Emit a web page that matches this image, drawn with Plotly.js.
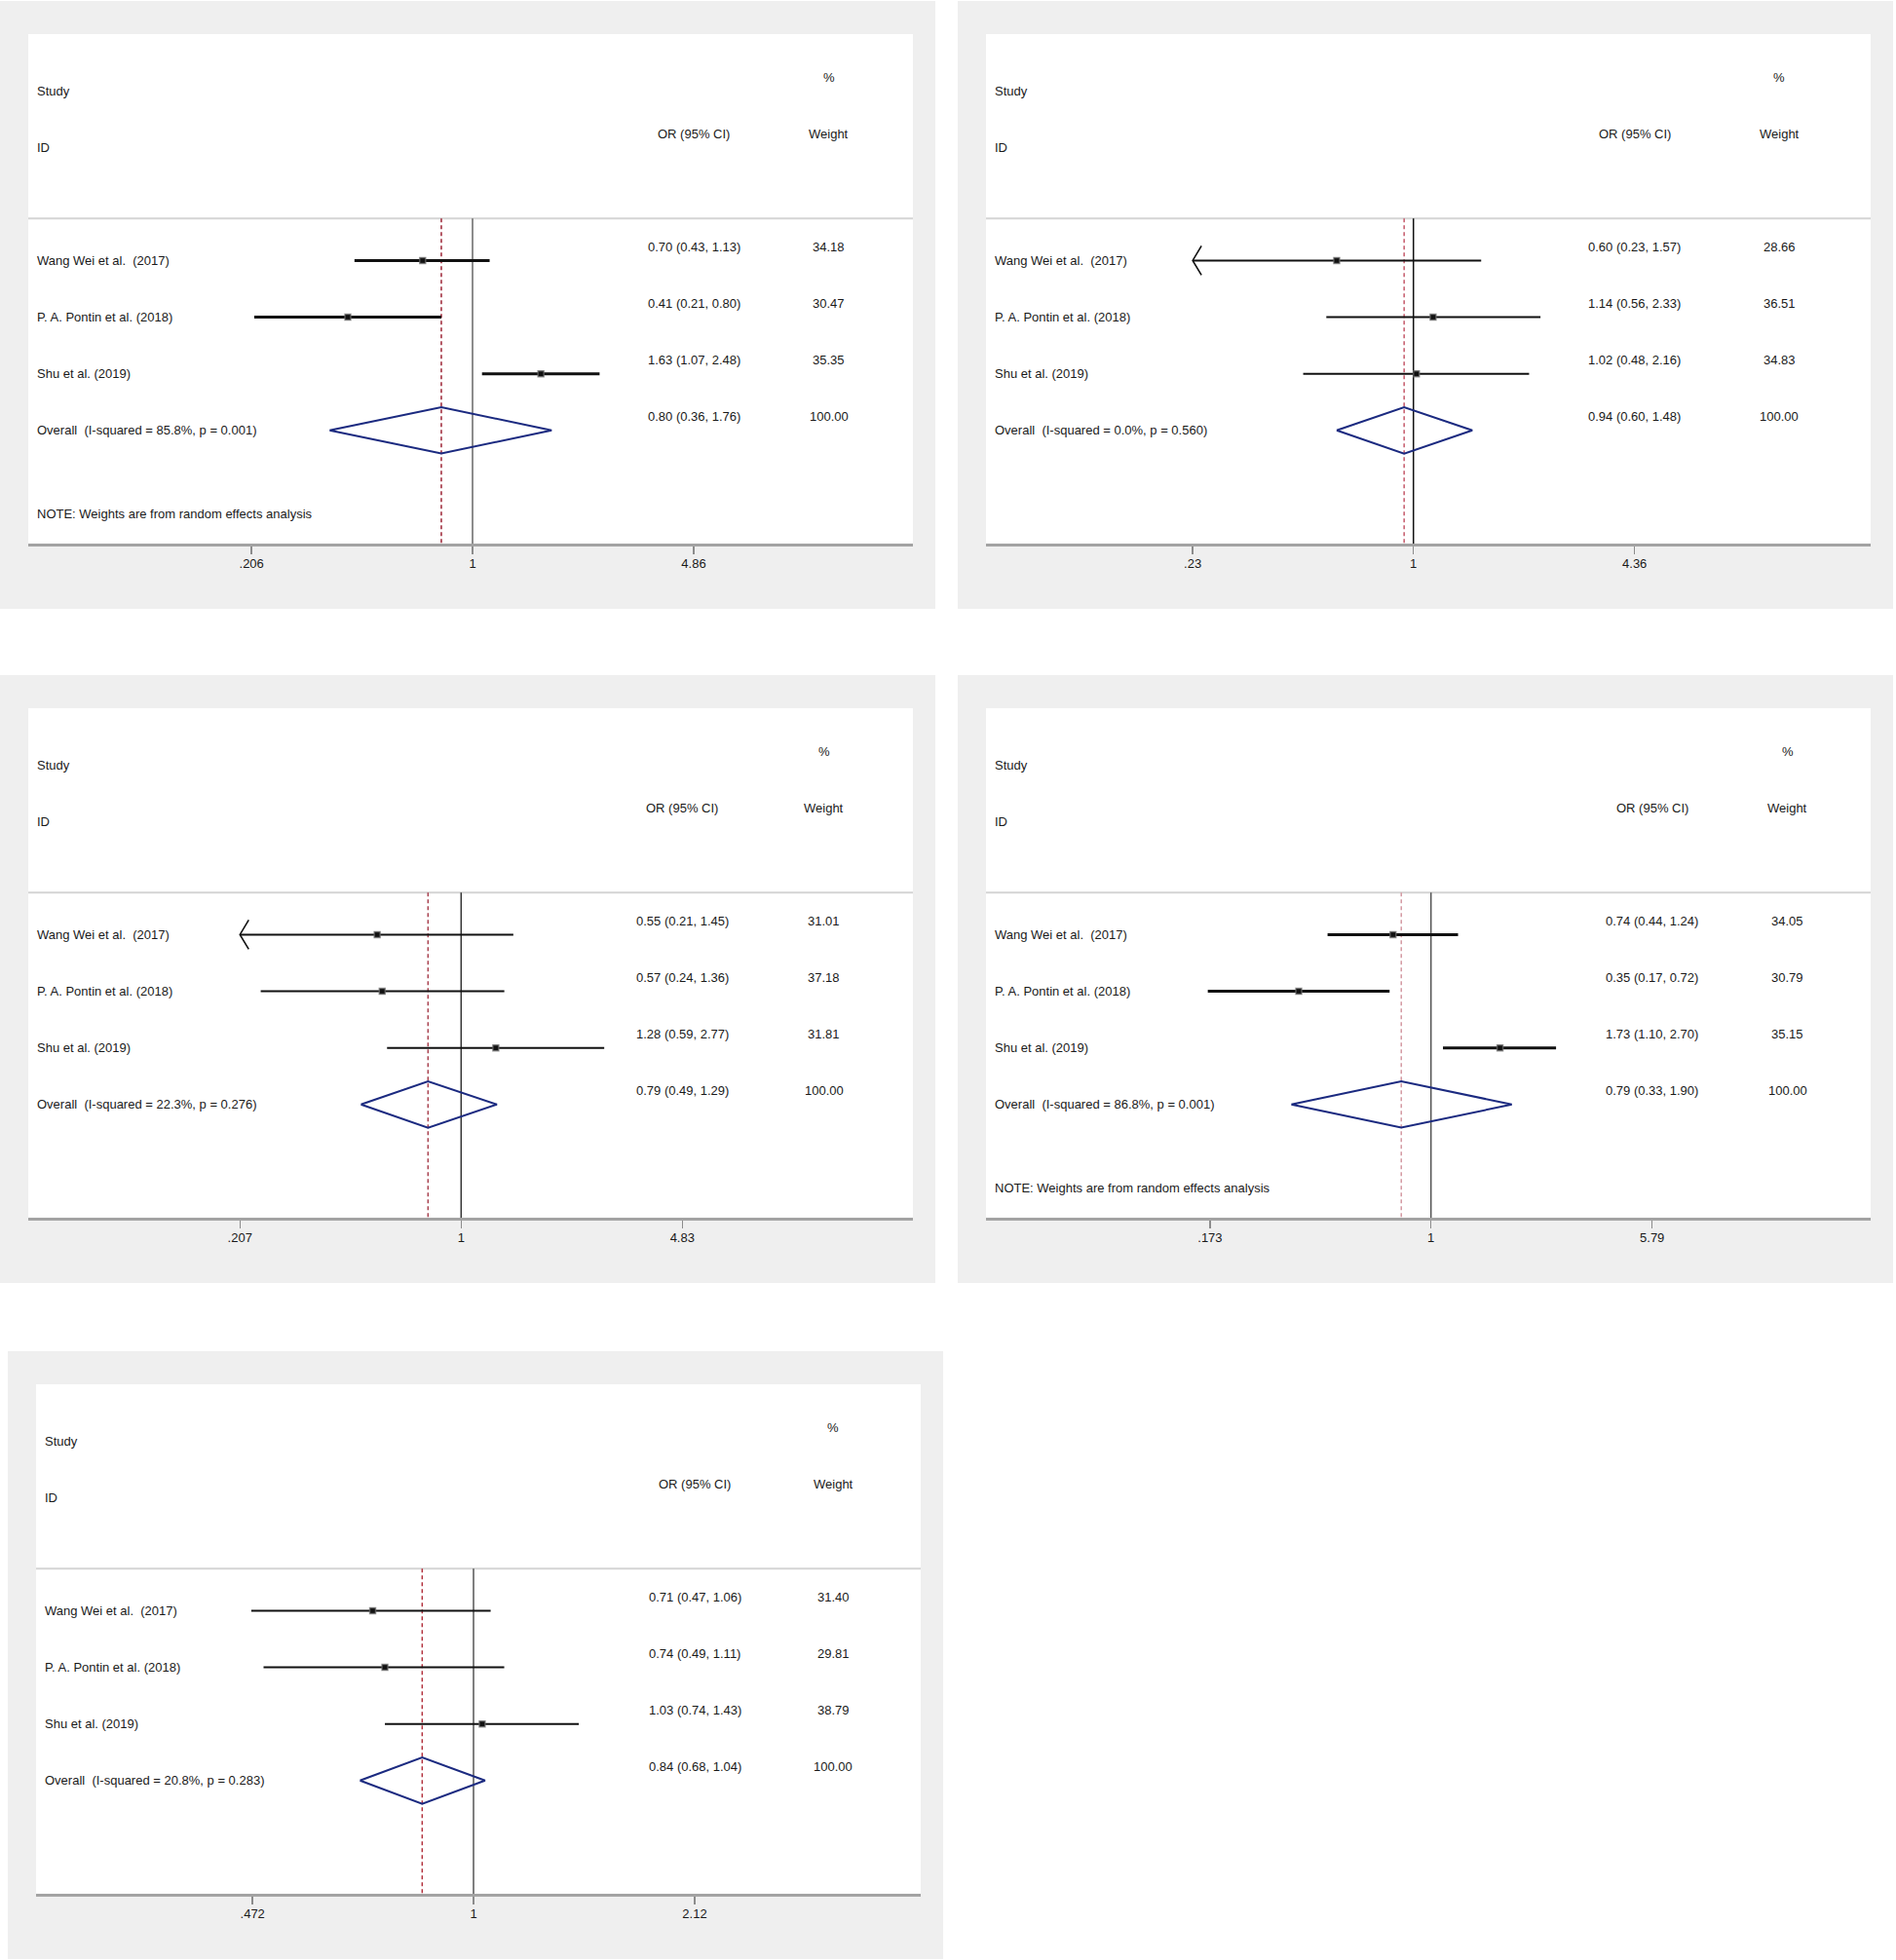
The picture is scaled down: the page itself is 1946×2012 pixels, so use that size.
<!DOCTYPE html>
<html>
<head>
<meta charset="utf-8">
<script src="https://cdn.plot.ly/plotly-3.0.1.min.js"></script>
<style>html, body { margin: 0; padding: 0; background: #fff; }</style>
</head>
<body>
<div id="plot" style="width:1946px;height:2012px"></div>
<script>
// Study rows (same three studies in every panel)
const studies = ['Wang Wei et al.\u00a0 (2017)', 'P. A. Pontin et al. (2018)', 'Shu et al. (2019)'];

// One entry per panel, reading order: top-left, top-right, middle-left, middle-right, bottom
const orEst  = [[0.70, 0.41, 1.63], [0.60, 1.14, 1.02], [0.55, 0.57, 1.28], [0.74, 0.35, 1.73], [0.71, 0.74, 1.03]];
const ciLow  = [[0.43, 0.21, 1.07], [0.23, 0.56, 0.48], [0.21, 0.24, 0.59], [0.44, 0.17, 1.10], [0.47, 0.49, 0.74]];
const ciHigh = [[1.13, 0.80, 2.48], [1.57, 2.33, 2.16], [1.45, 1.36, 2.77], [1.24, 0.72, 2.70], [1.06, 1.11, 1.43]];
const weights = [[34.18, 30.47, 35.35], [28.66, 36.51, 34.83], [31.01, 37.18, 31.81], [34.05, 30.79, 35.15], [31.40, 29.81, 38.79]];
// Stata draws an arrow where the interval runs off the axis
const offLeft = [[false, false, false], [true, false, false], [true, false, false], [false, false, false], [false, false, false]];

const overallEst  = [0.80, 0.94, 0.79, 0.79, 0.84];
const overallLow  = [0.36, 0.60, 0.49, 0.33, 0.68];
const overallHigh = [1.76, 1.48, 1.29, 1.90, 1.04];
const iSquared = ['85.8%', '0.0%', '22.3%', '86.8%', '20.8%'];
const pHet     = ['0.001', '0.560', '0.276', '0.001', '0.283'];
const showNote = [true, false, false, true, false];

const tickLow  = [0.206, 0.23, 0.207, 0.173, 0.472];
const tickHigh = [4.86, 4.36, 4.83, 5.79, 2.12];
const tickText = [['.206', '1', '4.86'], ['.23', '1', '4.36'], ['.207', '1', '4.83'], ['.173', '1', '5.79'], ['.472', '1', '2.12']];

const NULL_OR = 1;

// ---- page geometry (px) ----
const W = 1946, H = 2012;
const AREA_W = 908, AREA_H = 523;     // white plot area of each graph
const HALF_SPAN = 227;                 // px from "1" to the outer ticks
const Y_TOP = -4, Y_BOT = 5;           // row units; studies at 0..2, overall at 3
const ROW_PX = AREA_H / (Y_BOT - Y_TOP);
const HEADER_Y = -0.745;

const panels = [
  { left: 29,   top: 35,   one: 456,   wcol: 821.5, ciW: 3, nullCol: '#666', refCol: '#9c2234' },
  { left: 1012, top: 35,   one: 438.7, wcol: 814,   ciW: 2, nullCol: '#111', refCol: '#c55a6a' },
  { left: 29,   top: 727,  one: 444.3, wcol: 816.6, ciW: 2, nullCol: '#333', refCol: '#a8404e' },
  { left: 1012, top: 727,  one: 456.7, wcol: 822.5, ciW: 3, nullCol: '#555', refCol: '#d49aa3' },
  { left: 37,   top: 1421, one: 449,   wcol: 818,   ciW: 2, nullCol: '#555', refCol: '#b2303c' }
];

const FONT = { family: 'Arial, "Liberation Sans", sans-serif', size: 13, color: '#1a1a1a' };
const NAVY = '#1b2a80';

const px2x = (px) => px / W;
const px2y = (px) => 1 - px / H;

const traces = [];
const shapes = [];
const annotations = [];
const layout = {
  width: W, height: H,
  margin: { t: 0, b: 0, l: 0, r: 0 },
  paper_bgcolor: '#ffffff',
  plot_bgcolor: 'rgba(0,0,0,0)',
  showlegend: false,
  font: FONT
};

panels.forEach((p, i) => {
  const n = i + 1;
  const xa = n === 1 ? 'x' : 'x' + n;
  const ya = n === 1 ? 'y' : 'y' + n;
  const xDom = xa + ' domain';

  // log scale: HALF_SPAN px between 1 and the upper tick
  const pxPerLn = HALF_SPAN / Math.log(tickHigh[i]);
  const pxPerDec = pxPerLn * Math.LN10;

  // grey frame and white plot area
  shapes.push({
    type: 'rect', xref: 'paper', yref: 'paper', layer: 'below',
    x0: px2x(p.left - 29), x1: px2x(p.left + AREA_W + 23),
    y0: px2y(p.top - 34), y1: px2y(p.top + AREA_H + 67),
    fillcolor: '#efefef', line: { width: 0 }
  });
  shapes.push({
    type: 'rect', xref: 'paper', yref: 'paper', layer: 'below',
    x0: px2x(p.left), x1: px2x(p.left + AREA_W),
    y0: px2y(p.top + AREA_H), y1: px2y(p.top),
    fillcolor: '#ffffff', line: { width: 0 }
  });
  // line under the column headings
  shapes.push({
    type: 'line', xref: xDom, yref: ya, layer: 'below',
    x0: 0, x1: 1, y0: HEADER_Y, y1: HEADER_Y,
    line: { color: '#d4d4d4', width: 2 }
  });

  layout[n === 1 ? 'xaxis' : 'xaxis' + n] = {
    type: 'log',
    domain: [px2x(p.left), px2x(p.left + AREA_W)],
    range: [-p.one / pxPerDec, (AREA_W - p.one) / pxPerDec],
    anchor: ya,
    tickvals: [tickLow[i], NULL_OR, tickHigh[i]],
    ticktext: tickText[i],
    ticks: 'outside', ticklen: 8, tickwidth: 1.5, tickcolor: '#8c8c8c',
    ticklabelstandoff: -2,
    showline: true, linecolor: '#a3a3a3', linewidth: 3,
    showgrid: false, zeroline: false, fixedrange: true,
    tickfont: FONT
  };
  layout[n === 1 ? 'yaxis' : 'yaxis' + n] = {
    domain: [px2y(p.top + AREA_H), px2y(p.top)],
    range: [Y_BOT, Y_TOP],
    anchor: xa,
    visible: false, fixedrange: true
  };

  // null line and overall-estimate line
  traces.push({
    x: [NULL_OR, NULL_OR], y: [HEADER_Y, Y_BOT], xaxis: xa, yaxis: ya,
    type: 'scatter', mode: 'lines', line: { color: p.nullCol, width: 1.5 }, hoverinfo: 'skip'
  });
  traces.push({
    x: [overallEst[i], overallEst[i]], y: [HEADER_Y, Y_BOT], xaxis: xa, yaxis: ya,
    type: 'scatter', mode: 'lines', line: { color: p.refCol, width: 1.5, dash: '4px,3px' }, hoverinfo: 'skip'
  });

  // confidence intervals
  const ciX = [], ciY = [], arX = [], arY = [];
  studies.forEach((s, j) => {
    const lo = offLeft[i][j] ? tickLow[i] : ciLow[i][j];
    ciX.push(lo, ciHigh[i][j], null);
    ciY.push(j, j, null);
    if (offLeft[i][j]) {
      const armX = tickLow[i] * Math.exp(9 / pxPerLn);
      const dy = 15 / ROW_PX;
      arX.push(armX, tickLow[i], armX, null);
      arY.push(j - dy, j, j + dy, null);
    }
  });
  traces.push({
    x: ciX, y: ciY, xaxis: xa, yaxis: ya, type: 'scatter', mode: 'lines',
    line: { color: '#111', width: p.ciW }, hoverinfo: 'skip'
  });
  if (arX.length) {
    traces.push({
      x: arX, y: arY, xaxis: xa, yaxis: ya, type: 'scatter', mode: 'lines',
      line: { color: '#111', width: 1.6 }, hoverinfo: 'skip'
    });
  }
  traces.push({
    x: orEst[i], y: studies.map((s, j) => j), xaxis: xa, yaxis: ya,
    type: 'scatter', mode: 'markers',
    marker: { symbol: 'square', size: 6, color: '#111', line: { color: 'rgba(110,110,110,0.7)', width: 1.5 } },
    hoverinfo: 'skip'
  });

  // pooled diamond
  const ov = studies.length;
  const hh = 0.41;
  traces.push({
    x: [overallLow[i], overallEst[i], overallHigh[i], overallEst[i], overallLow[i]],
    y: [ov, ov - hh, ov, ov + hh, ov],
    xaxis: xa, yaxis: ya, type: 'scatter', mode: 'lines',
    line: { color: NAVY, width: 2 }, hoverinfo: 'skip'
  });

  // text columns
  const labelX = 6.5 / AREA_W;
  const orX = (p.one + HALF_SPAN) / AREA_W;
  const wX = p.wcol / AREA_W;
  const txt = (text, x, y, anchor) => annotations.push({
    text, x, y, xref: xDom, yref: ya, xanchor: anchor, yanchor: 'middle',
    showarrow: false, font: FONT
  });

  txt('Study', labelX, -3, 'left');
  txt('ID', labelX, -2, 'left');
  txt('%', wX, -3.24, 'center');
  txt('OR (95% CI)', orX, -2.24, 'center');
  txt('Weight', wX, -2.24, 'center');

  studies.forEach((s, j) => {
    txt(s, labelX, j, 'left');
    txt(`${orEst[i][j].toFixed(2)} (${ciLow[i][j].toFixed(2)}, ${ciHigh[i][j].toFixed(2)})`, orX, j - 0.24, 'center');
    txt(weights[i][j].toFixed(2), wX, j - 0.24, 'center');
  });
  txt(`Overall\u00a0 (I-squared = ${iSquared[i]}, p = ${pHet[i]})`, labelX, ov, 'left');
  txt(`${overallEst[i].toFixed(2)} (${overallLow[i].toFixed(2)}, ${overallHigh[i].toFixed(2)})`, orX, ov - 0.24, 'center');
  txt('100.00', wX, ov - 0.24, 'center');

  if (showNote[i]) {
    txt('NOTE: Weights are from random effects analysis', labelX, 4.48, 'left');
  }
});

layout.shapes = shapes;
layout.annotations = annotations;

Plotly.newPlot('plot', traces, layout, { staticPlot: true });
</script>
</body>
</html>
